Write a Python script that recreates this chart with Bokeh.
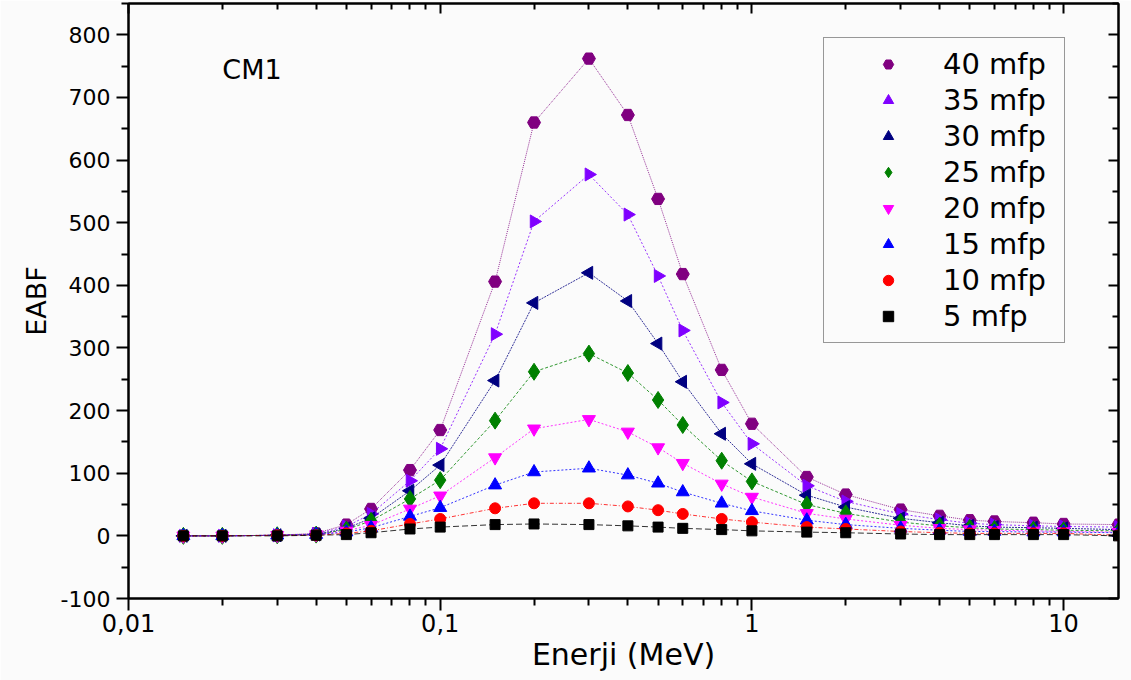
import math
from bokeh.plotting import figure
from bokeh.models import (FixedTicker, LogAxis, LinearAxis, Legend, LegendItem,
                          CustomJSTickFormatter, Label, ColumnDataSource, Range1d)
from bokeh.embed import file_html
from bokeh.resources import INLINE

energy = [0.015, 0.02, 0.03, 0.04, 0.05, 0.06, 0.08, 0.1, 0.15, 0.2, 0.3, 0.4, 0.5,
          0.6, 0.8, 1, 1.5, 2, 3, 4, 5, 6, 8, 10, 15]

mfp40 = [0, 0, 1, 4, 18, 43, 105, 169, 406, 660, 762, 672, 538, 418, 265, 179, 94, 66, 42, 32, 25, 23, 21, 19, 18]
mfp35 = [0, 0, 1, 3, 15, 35, 88, 139, 322, 502, 577, 513, 415, 328, 213, 147, 80, 55, 35, 26, 20, 18, 16, 15, 14]
mfp30 = [0, 0, 1, 2, 12, 28, 72, 113, 248, 372, 420, 375, 307, 246, 163, 115, 65, 46, 28, 21, 16, 14, 13, 12, 10]
mfp25 = [0, 0, 1, 2, 10, 24, 59, 89, 184, 262, 291, 260, 217, 177, 120, 87, 50, 36, 22, 16, 13, 11, 10, 9, 8]
mfp20 = [0, 0, 1, 2, 8, 17, 43, 64, 125, 171, 186, 166, 141, 116, 83, 62, 36, 27, 17, 12, 10, 9, 8, 7, 6]
mfp15 = [0, 0, 1, 2, 6, 13, 31, 45, 81, 102, 108, 97, 84, 70, 52, 40, 25, 18, 12, 9, 7, 7, 6, 6, 5]
mfp10 = [0, 0, 1, 1, 4, 8, 19, 27, 44, 52, 52, 47, 41, 35, 27, 22, 14, 11, 7, 5, 4, 4, 4, 4, 1]
mfp5 = [0, 0, 0, 1, 2, 5, 11, 14, 18, 19, 18, 16, 14, 12, 10, 8, 6, 5, 3, 2, 2, 2, 2, 2, 0]

labels = ["40 mfp", "35 mfp", "30 mfp", "25 mfp", "20 mfp", "15 mfp", "10 mfp", "5 mfp"]
series = [mfp40, mfp35, mfp30, mfp25, mfp20, mfp15, mfp10, mfp5]
colors = ["#800080", "#8000FF", "#000080", "#008000", "#FF00FF", "#0000FF", "#FF0000", "#000000"]
markers = ["hex", "triangle", "triangle", "diamond", "inverted_triangle", "triangle", "circle", "square"]
angles = [0, -math.pi / 2, math.pi / 2, 0, 0, 0, 0, 0]
sizes = [13, 13, 13, 17, 13, 13, 11, 10]
dashes = ["1 1", "2 2", "2 1", "3 2", "2 2", "2 2", "4 2 1 2", "6 3"]

x_major = [0.01, 0.1, 1, 10]
x_minor = [k * d for d in (0.01, 0.1, 1) for k in range(2, 10)] + [20]
y_major = list(range(-100, 801, 100))
y_minor = list(range(-50, 851, 100))

BG = "#fbfbfb"
FONT = "DejaVu Sans"

p = figure(width=1131, height=680, x_axis_type="log", output_backend="svg",
           toolbar_location=None, x_range=Range1d(0.01, 15), y_range=Range1d(-100, 850),
           min_border_left=128, min_border_right=13, min_border_top=3, min_border_bottom=82,
           background_fill_color=BG, border_fill_color=BG)
p.grid.visible = False
p.outline_line_color = "black"
p.outline_line_width = 2

items = []
for lab, ys, c, m, a, s, d in zip(labels, series, colors, markers, angles, sizes, dashes):
    src = ColumnDataSource(dict(x=energy, y=ys, ang=[a] * len(energy)))
    p.line("x", "y", source=src, line_color=c, line_width=1, line_dash=d, line_alpha=0.8)
    r = p.scatter("x", "y", source=src, marker=m, size=s, angle="ang",
                  fill_color=c, line_color=c)
    items.append(LegendItem(label=lab, renderers=[r]))

# bottom axis
xa = p.xaxis[0]
xa.ticker = FixedTicker(ticks=x_major, minor_ticks=x_minor)
xa.formatter = CustomJSTickFormatter(code="return tick < 1 ? tick.toString().replace('.', ',') : tick.toString();")
xa.axis_label = "Enerji (MeV)"
xa.axis_label_text_font = FONT
xa.axis_label_text_font_size = "30px"
xa.axis_label_text_font_style = "normal"
xa.axis_label_text_color = "black"
xa.axis_label_standoff = 2
xa.major_label_text_font = FONT
xa.major_label_text_font_size = "24px"
xa.major_label_text_color = "black"
xa.major_label_standoff = 3
xa.axis_line_width = 2
xa.major_tick_line_width = 2
xa.minor_tick_line_width = 2
xa.major_tick_out = 12
xa.major_tick_in = 0
xa.minor_tick_out = 7
xa.minor_tick_in = 0

ya = p.yaxis[0]
ya.ticker = FixedTicker(ticks=y_major, minor_ticks=y_minor)
ya.formatter = CustomJSTickFormatter(code="return Math.round(tick).toString();")
ya.axis_label = "EABF"
ya.axis_label_text_font = FONT
ya.axis_label_text_font_size = "27px"
ya.axis_label_text_font_style = "normal"
ya.axis_label_text_color = "black"
ya.axis_label_standoff = 6
ya.major_label_text_font = FONT
ya.major_label_text_font_size = "22px"
ya.major_label_text_color = "black"
ya.major_label_standoff = 6
ya.axis_line_width = 2
ya.major_tick_line_width = 2
ya.minor_tick_line_width = 2
ya.major_tick_out = 12
ya.major_tick_in = 0
ya.minor_tick_out = 7
ya.minor_tick_in = 0

blank = CustomJSTickFormatter(code="return '';")
top = LogAxis(ticker=FixedTicker(ticks=x_major, minor_ticks=x_minor), formatter=blank,
              major_label_text_font_size="0px", major_label_standoff=0,
              major_tick_in=10, major_tick_out=0, minor_tick_in=6, minor_tick_out=0,
              axis_line_width=2, major_tick_line_width=2, minor_tick_line_width=2)
right = LinearAxis(ticker=FixedTicker(ticks=y_major, minor_ticks=y_minor), formatter=blank,
                   major_label_text_font_size="0px", major_label_standoff=0,
                   major_tick_in=10, major_tick_out=0, minor_tick_in=6, minor_tick_out=0,
                   axis_line_width=2, major_tick_line_width=2, minor_tick_line_width=2)
p.add_layout(top, "above")
p.add_layout(right, "right")

legend = Legend(items=items, location=(695, 255), orientation="vertical",
                label_text_font=FONT, label_text_font_size="29px", label_text_color="black",
                glyph_width=110, glyph_height=26, label_height=26, label_width=112,
                label_standoff=0, spacing=2, padding=9, margin=0,
                border_line_color="#333333", border_line_width=1,
                background_fill_color=BG, background_fill_alpha=1)
p.add_layout(legend, "center")

p.add_layout(Label(x=0.02, y=745, text="CM1", text_font=FONT, text_font_size="27px",
                   text_baseline="middle", text_align="left", text_color="black"))

open("out.html", "w").write(file_html(p, INLINE))
